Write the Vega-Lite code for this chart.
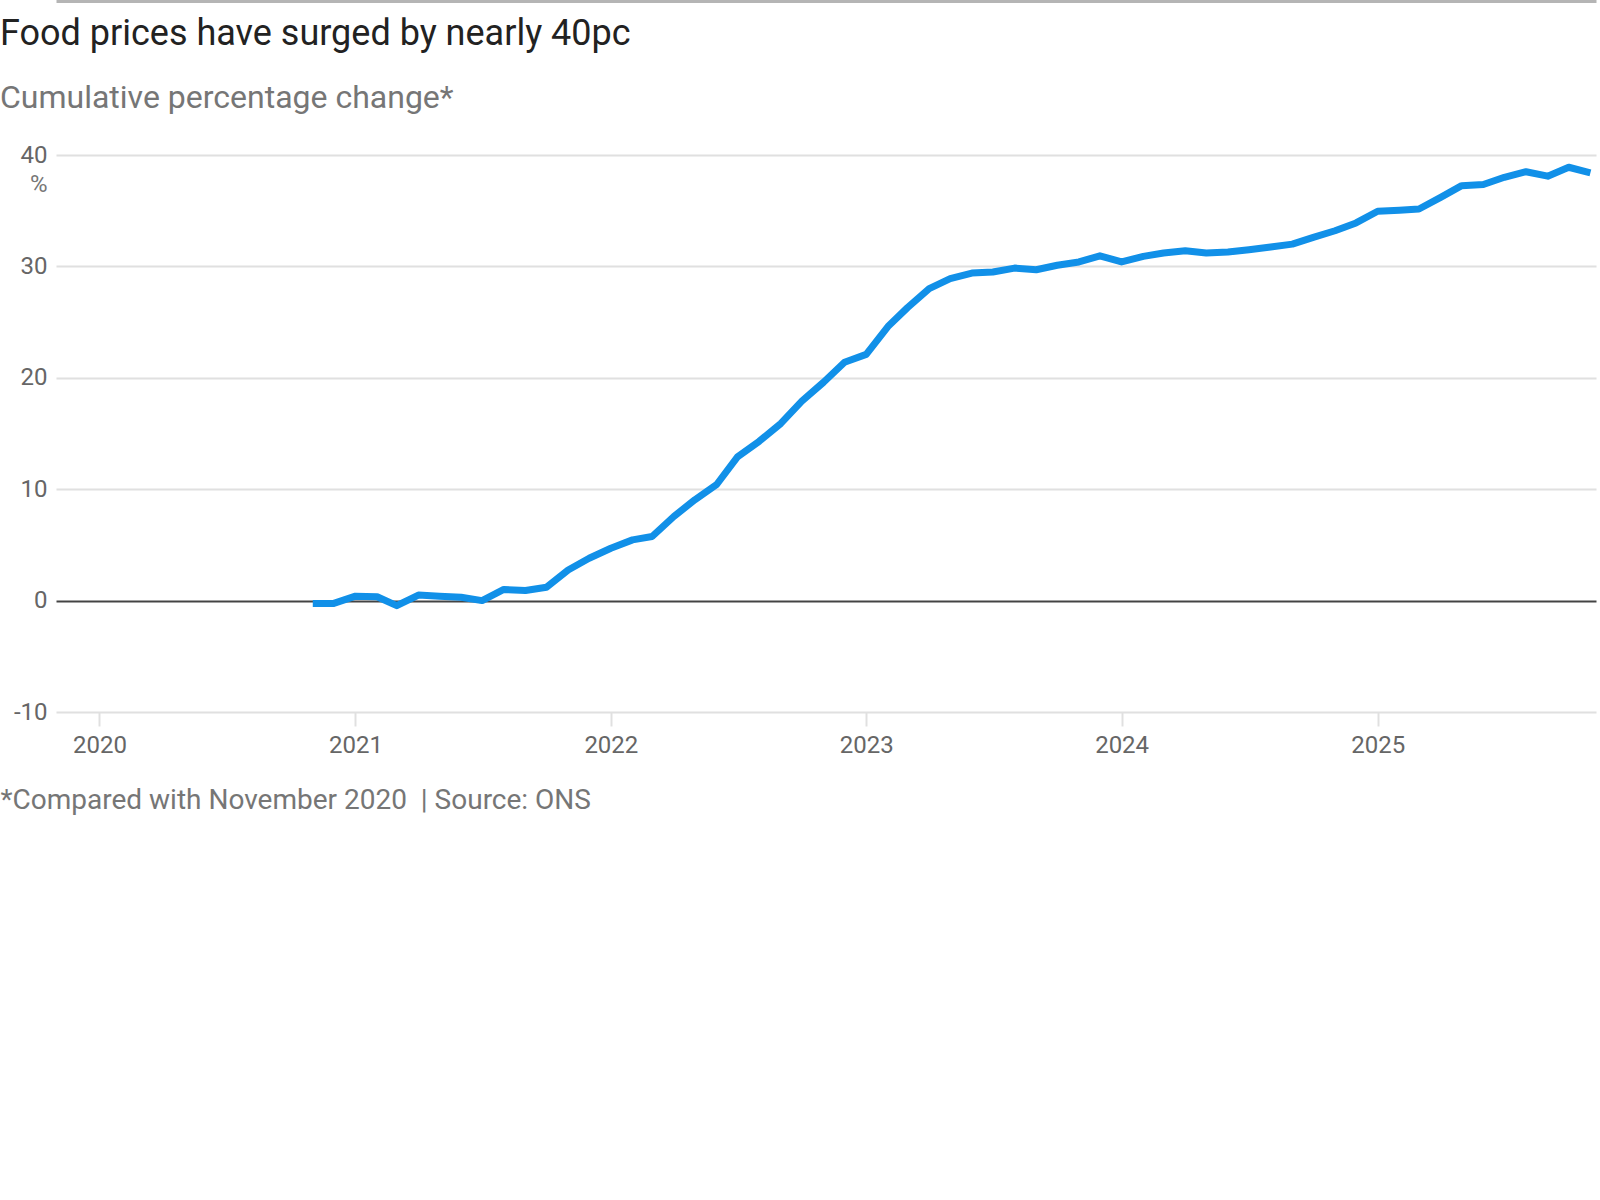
{
  "$schema": "https://vega.github.io/schema/vega-lite/v6.json",
  "description": "Cumulative change in UK food prices since November 2020 (ONS)",
  "autosize": "none",
  "width": 1540,
  "height": 557,
  "padding": {"left": 56, "top": 155, "right": 4, "bottom": 488},
  "background": "white",
  "config": {
    "font": "Roboto",
    "view": {"stroke": null}
  },
  "title": {
    "text": "Food prices have surged by nearly 40pc",
    "subtitle": "Cumulative percentage change*",
    "anchor": "start",
    "frame": "group",
    "dx": -56,
    "dy": 115,
    "offset": 0,
    "font": "Roboto",
    "fontSize": 36,
    "fontWeight": "normal",
    "color": "#222222",
    "subtitleFont": "Roboto",
    "subtitleFontSize": 32,
    "subtitleColor": "#767676",
    "subtitlePadding": 30
  },
  "data": {
    "values": [
      {"month": "2020-11-01", "change": -0.25},
      {"month": "2020-12-01", "change": -0.25},
      {"month": "2021-01-01", "change": 0.4},
      {"month": "2021-02-01", "change": 0.35},
      {"month": "2021-03-01", "change": -0.45},
      {"month": "2021-04-01", "change": 0.5},
      {"month": "2021-05-01", "change": 0.4},
      {"month": "2021-06-01", "change": 0.3},
      {"month": "2021-07-01", "change": 0.0},
      {"month": "2021-08-01", "change": 1.0},
      {"month": "2021-09-01", "change": 0.9},
      {"month": "2021-10-01", "change": 1.2},
      {"month": "2021-11-01", "change": 2.75},
      {"month": "2021-12-01", "change": 3.8},
      {"month": "2022-01-01", "change": 4.7},
      {"month": "2022-02-01", "change": 5.45},
      {"month": "2022-03-01", "change": 5.75},
      {"month": "2022-04-01", "change": 7.55},
      {"month": "2022-05-01", "change": 9.05},
      {"month": "2022-06-01", "change": 10.4},
      {"month": "2022-07-01", "change": 12.9},
      {"month": "2022-08-01", "change": 14.3},
      {"month": "2022-09-01", "change": 15.9},
      {"month": "2022-10-01", "change": 17.9},
      {"month": "2022-11-01", "change": 19.6},
      {"month": "2022-12-01", "change": 21.4},
      {"month": "2023-01-01", "change": 22.1},
      {"month": "2023-02-01", "change": 24.6},
      {"month": "2023-03-01", "change": 26.3},
      {"month": "2023-04-01", "change": 28.0},
      {"month": "2023-05-01", "change": 28.9},
      {"month": "2023-06-01", "change": 29.4},
      {"month": "2023-07-01", "change": 29.5},
      {"month": "2023-08-01", "change": 29.85},
      {"month": "2023-09-01", "change": 29.7},
      {"month": "2023-10-01", "change": 30.1},
      {"month": "2023-11-01", "change": 30.4},
      {"month": "2023-12-01", "change": 30.95},
      {"month": "2024-01-01", "change": 30.4},
      {"month": "2024-02-01", "change": 30.9},
      {"month": "2024-03-01", "change": 31.2},
      {"month": "2024-04-01", "change": 31.4},
      {"month": "2024-05-01", "change": 31.2},
      {"month": "2024-06-01", "change": 31.3},
      {"month": "2024-07-01", "change": 31.5},
      {"month": "2024-08-01", "change": 31.75},
      {"month": "2024-09-01", "change": 32.0},
      {"month": "2024-10-01", "change": 32.6},
      {"month": "2024-11-01", "change": 33.2},
      {"month": "2024-12-01", "change": 33.9},
      {"month": "2025-01-01", "change": 34.95},
      {"month": "2025-02-01", "change": 35.05},
      {"month": "2025-03-01", "change": 35.15},
      {"month": "2025-04-01", "change": 36.2},
      {"month": "2025-05-01", "change": 37.25},
      {"month": "2025-06-01", "change": 37.35},
      {"month": "2025-07-01", "change": 38.0},
      {"month": "2025-08-01", "change": 38.5},
      {"month": "2025-09-01", "change": 38.1},
      {"month": "2025-10-01", "change": 38.9},
      {"month": "2025-11-01", "change": 38.4}
    ]
  },
  "layer": [
    {
      "mark": {"type": "line", "color": "#1190e8", "strokeWidth": 7, "strokeJoin": "round"},
      "encoding": {
        "x": {
          "field": "month",
          "type": "temporal",
          "scale": {
            "type": "utc",
            "domain": [
              {"year": 2019, "month": 10, "date": 31, "utc": true},
              {"year": 2025, "month": 11, "date": 9, "utc": true}
            ]
          },
          "axis": {
            "orient": "bottom",
            "values": [
              {"year": 2020, "month": 1, "date": 1, "utc": true},
              {"year": 2021, "month": 1, "date": 1, "utc": true},
              {"year": 2022, "month": 1, "date": 1, "utc": true},
              {"year": 2023, "month": 1, "date": 1, "utc": true},
              {"year": 2024, "month": 1, "date": 1, "utc": true},
              {"year": 2025, "month": 1, "date": 1, "utc": true}
            ],
            "format": "%Y",
            "formatType": "utc",
            "domain": false,
            "grid": false,
            "ticks": true,
            "tickColor": "#e0e0e0",
            "tickWidth": 2,
            "tickSize": 14,
            "labelFontSize": 24,
            "labelColor": "#666666",
            "labelPadding": 7,
            "title": "*Compared with November 2020\u00a0 |\u00a0Source: ONS",
            "titleX": -56,
            "titleY": 96,
            "titleAlign": "left",
            "titleAnchor": "start",
            "titleBaseline": "alphabetic",
            "titleFontSize": 28,
            "titleFontWeight": "normal",
            "titleColor": "#767676"
          }
        },
        "y": {
          "field": "change",
          "type": "quantitative",
          "scale": {"domain": [-10, 40], "nice": false, "zero": false},
          "axis": {
            "orient": "left",
            "values": [-10, 0, 10, 20, 30, 40],
            "labelExpr": "toString(datum.value)",
            "domain": false,
            "ticks": false,
            "labelFontSize": 24,
            "labelColor": "#666666",
            "labelPadding": 9,
            "gridColor": {"condition": {"test": "datum.value === 0", "value": "#444444"}, "value": "#e0e0e0"},
            "gridWidth": 2,
            "title": "%",
            "titleAngle": 0,
            "titleX": -9,
            "titleY": 29,
            "titleAlign": "right",
            "titleBaseline": "middle",
            "titleFontSize": 24,
            "titleFontWeight": "normal",
            "titleColor": "#767676"
          }
        }
      }
    },
    {
      "mark": {"type": "line", "strokeOpacity": 0},
      "encoding": {
        "x": {
          "field": "month",
          "type": "temporal",
          "axis": {
            "orient": "top",
            "offset": 155,
            "domain": true,
            "domainColor": "#b5b5b5",
            "domainWidth": 5,
            "labels": false,
            "ticks": false,
            "grid": false,
            "title": null
          }
        }
      }
    }
  ]
}
